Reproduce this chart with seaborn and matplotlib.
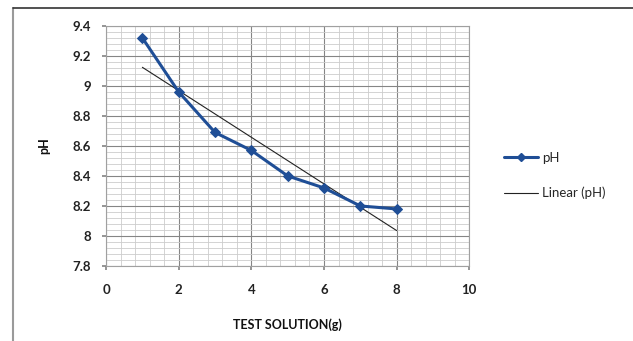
import numpy as np
import pandas as pd
import seaborn as sns
import matplotlib
matplotlib.use("Agg")
import matplotlib.pyplot as plt
from matplotlib.ticker import MultipleLocator
from matplotlib.lines import Line2D

test_solution = [1, 2, 3, 4, 5, 6, 7, 8]
ph_values = [9.32, 8.96, 8.69, 8.57, 8.40, 8.32, 8.20, 8.18]
x_ticks = [0, 2, 4, 6, 8, 10]
y_ticks = [7.8, 8.0, 8.2, 8.4, 8.6, 8.8, 9.0, 9.2, 9.4]
y_tick_labels = ["7.8", "8", "8.2", "8.4", "8.6", "8.8", "9", "9.2", "9.4"]

sns.set_theme(style="white")
plt.rcParams['font.family'] = ['Lato', 'DejaVu Sans']

df = pd.DataFrame({"x": test_solution, "pH": ph_values})
coef = np.polyfit(df["x"], df["pH"], 1)
trend = pd.DataFrame({"x": [min(test_solution), max(test_solution)]})
trend["y"] = np.polyval(coef, trend["x"])

fig = plt.figure(figsize=(6.33, 3.41), dpi=100)
ax = fig.add_axes([0.1675, 0.22, 0.574, 0.704])

blue = "#1f4e96"
sns.lineplot(data=df, x="x", y="pH", ax=ax, color=blue, lw=2.2, marker="D",
             markersize=5.5, markeredgecolor=blue, zorder=4)
sns.lineplot(data=trend, x="x", y="y", ax=ax, color="#222222", lw=0.8, zorder=3)

ax.set_xlim(0, 10)
ax.set_ylim(7.8, 9.4)
ax.set_xticks(x_ticks)
ax.set_xticklabels([str(t) for t in x_ticks])
ax.set_yticks(y_ticks)
ax.set_yticklabels(y_tick_labels)
ax.xaxis.set_minor_locator(MultipleLocator(0.4))
ax.yaxis.set_minor_locator(MultipleLocator(0.04))
ax.grid(which="minor", color="#cccccc", lw=0.6)
ax.grid(which="major", color="#858585", lw=0.8)
ax.set_axisbelow(True)
for s in ax.spines.values():
    s.set_color("#a0a0a0")
    s.set_linewidth(0.8)
ax.tick_params(axis="both", which="major", labelsize=9.5, length=3, color="#888888",
               direction="out", pad=8)
ax.tick_params(axis="both", which="minor", length=0)
ax.tick_params(axis="x", pad=10)
for lab in ax.get_xticklabels() + ax.get_yticklabels():
    lab.set_fontweight("bold")
    lab.set_color("#222222")
ax.tick_params(axis="y", left=True)
ax.tick_params(axis="x", bottom=True)

ax.set_xlabel("TEST SOLUTION(g)", fontsize=9, fontweight="bold", labelpad=16, color="#111111")
ax.set_ylabel("pH", fontsize=9, fontweight="bold", labelpad=16, color="#111111")

handles = [Line2D([], [], color=blue, lw=2.2, marker="D", markersize=4),
           Line2D([], [], color="#222222", lw=0.8)]
fig.legend(handles, ["pH", "Linear (pH)"], loc="center left",
           bbox_to_anchor=(0.777, 0.485), frameon=False, fontsize=9.5,
           handlelength=2.6, handletextpad=0.3, labelspacing=1.75)

fig.add_artist(Line2D([0.0205, 0.0205], [0, 0.977], transform=fig.transFigure,
                      color="#9a9a9a", lw=1.5))
fig.add_artist(Line2D([0.0205, 1.0], [0.977, 0.977], transform=fig.transFigure,
                      color="#333333", lw=1.2))

fig.savefig("out.png", dpi=100)
